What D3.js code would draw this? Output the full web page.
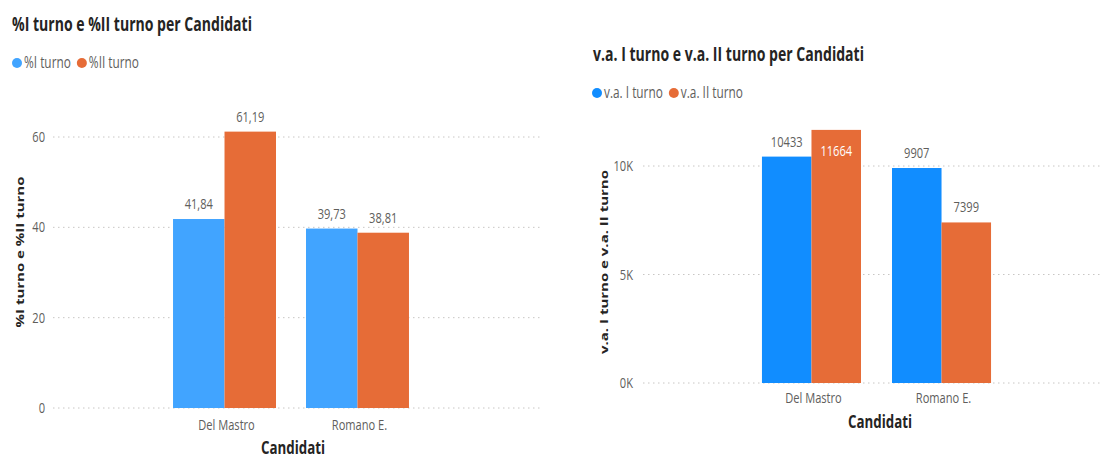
<!DOCTYPE html>
<html>
<head>
<meta charset="utf-8">
<script src="https://cdn.jsdelivr.net/npm/d3@7"></script>
<style>
  html, body { margin: 0; padding: 0; background: #fff; }
  svg { display: block; font-family: "Open Sans", "DejaVu Sans", sans-serif; }
</style>
</head>
<body>
<svg id="chart" width="1108" height="460"></svg>
<script>
// Candidates shared by both charts
const candidati = ["Del Mastro", "Romano E."];

// Percentages, first and second round
const percPrimoTurno = [41.84, 39.73];
const percSecondoTurno = [61.19, 38.81];
const percTicks = [0, 20, 40, 60];

// Absolute votes, first and second round
const vaPrimoTurno = [10433, 9907];
const vaSecondoTurno = [11664, 7399];
const vaTicks = [0, 5000, 10000];

const svg = d3.select("#chart");
const SX = 0.74; // horizontal squeeze applied to all text

function txt(g, x, y, s, o = {}) {
  const rot = o.rotate ? " rotate(-90)" : "";
  return g.append("text")
    .attr("transform", `translate(${x},${y}) scale(${SX},1)${rot}`)
    .attr("text-anchor", o.anchor || "start")
    .attr("font-size", o.size || 14)
    .attr("font-weight", o.weight || "normal")
    .attr("fill", o.fill || "#605E5C")
    .text(s);
}

function drawChart(cfg) {
  const g = svg.append("g");
  const y = d3.scaleLinear().domain(cfg.yDomain).range(cfg.yRange);
  const x0 = d3.scaleBand().domain(candidati).range(cfg.xRange)
    .paddingInner(cfg.padInner).paddingOuter(cfg.padOuter);
  const x1 = d3.scaleBand().domain([0, 1]).range([0, x0.bandwidth()]);

  // title
  txt(g, cfg.titleX, cfg.titleY, cfg.title, { size: 19, weight: "bold", fill: "#252423" });

  // legend
  let lx = cfg.legendX;
  cfg.series.forEach((s, i) => {
    g.append("circle").attr("cx", lx + 5).attr("cy", cfg.legendY - 5).attr("r", 5).attr("fill", s.color);
    const t = txt(g, lx + 12, cfg.legendY, s.name, { size: 16, fill: "#605E5C" });
    lx += 12 + t.node().getBBox().width * SX + 6;
  });

  // gridlines and y ticks
  cfg.ticks.forEach(v => {
    g.append("line")
      .attr("x1", cfg.gridX[0]).attr("x2", cfg.gridX[1])
      .attr("y1", y(v)).attr("y2", y(v))
      .attr("stroke", "#C8C6C4").attr("stroke-width", 1)
      .attr("stroke-dasharray", "1.5,3.5");
    txt(g, cfg.tickLabelX, y(v) + 5, cfg.tickFormat(v), { size: 15, anchor: "end" });
  });

  // y axis title
  txt(g, cfg.yTitleX, cfg.yTitleY, cfg.yTitle, { size: 15, weight: "bold", fill: "#252423", anchor: "middle", rotate: true });

  // bars
  candidati.forEach((c, ci) => {
    cfg.series.forEach((s, si) => {
      const v = s.values[ci];
      const bx = x0(c) + x1(si);
      g.append("rect")
        .attr("x", bx).attr("y", y(v))
        .attr("width", x1.bandwidth()).attr("height", y(0) - y(v))
        .attr("fill", s.color);
      const inside = cfg.insideLabel && cfg.insideLabel(v, si);
      txt(g, bx + x1.bandwidth() / 2, inside ? y(v) + 26 : y(v) - 10, cfg.valueFormat(v),
        { size: 15, anchor: "middle", fill: inside ? "#FFFFFF" : "#605E5C" });
    });
    txt(g, x0(c) + x0.bandwidth() / 2 + 2, cfg.xLabelY, c, { size: 15, anchor: "middle" });
  });

  // x axis title
  txt(g, cfg.xTitleX, cfg.xTitleY, "Candidati", { size: 18, weight: "bold", fill: "#252423", anchor: "middle" });
}

drawChart({
  title: "%I turno e %II turno per Candidati",
  titleX: 12, titleY: 31,
  legendX: 12, legendY: 68,
  series: [
    { name: "%I turno", color: "#41A4FF", values: percPrimoTurno },
    { name: "%II turno", color: "#E66C37", values: percSecondoTurno }
  ],
  yDomain: [0, 60], yRange: [408, 137],
  ticks: percTicks, tickFormat: d => d,
  gridX: [53, 540], tickLabelX: 45,
  yTitle: "%I turno e %II turno", yTitleX: 24, yTitleY: 252,
  xRange: [158, 424], padInner: 0.2256, padOuter: 0.113,
  valueFormat: v => v.toFixed(2).replace(".", ","),
  xLabelY: 430, xTitleX: 293, xTitleY: 454
});

drawChart({
  title: "v.a. I turno e v.a. II turno per Candidati",
  titleX: 593, titleY: 61,
  legendX: 592, legendY: 98,
  series: [
    { name: "v.a. I turno", color: "#118DFF", values: vaPrimoTurno },
    { name: "v.a. II turno", color: "#E66C37", values: vaSecondoTurno }
  ],
  yDomain: [0, 10000], yRange: [383, 166],
  ticks: vaTicks, tickFormat: d => (d / 1000) + "K",
  gridX: [643, 1100], tickLabelX: 633,
  yTitle: "v.a. I turno e v.a. II turno", yTitleX: 608, yTitleY: 262,
  xRange: [747, 1006], padInner: 0.2385, padOuter: 0.115,
  insideLabel: (v, si) => si === 1 && v > 11000,
  valueFormat: v => String(v),
  xLabelY: 403, xTitleX: 880, xTitleY: 428
});
</script>
</body>
</html>
